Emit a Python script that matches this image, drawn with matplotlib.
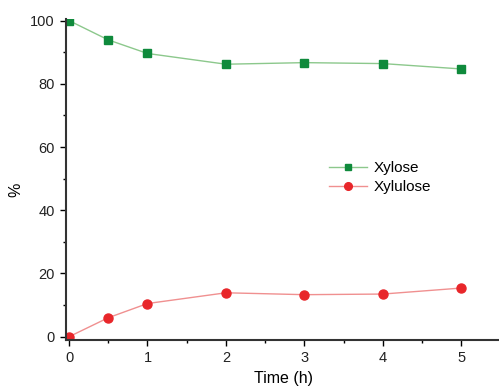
import matplotlib.pyplot as plt
from matplotlib.ticker import MultipleLocator

plt.rcParams['font.family'] = ['Liberation Sans', 'DejaVu Sans']

time_h = [0, 0.5, 1, 2, 3, 4, 5]
xylose = [100, 93.9, 89.6, 86.2, 86.7, 86.4, 84.7]
xylulose = [0, 6.0, 10.5, 13.9, 13.3, 13.5, 15.4]

fig = plt.figure(figsize=(4.99, 3.88), dpi=100)
ax = fig.add_axes([0.132, 0.124, 0.868, 0.827])

ax.plot(time_h, xylose, color="#8cc88c", lw=1, marker="s", ms=5.5,
        mfc="#0f8a3c", mec="#0f8a3c", label="Xylose")
ax.plot(time_h, xylulose, color="#f09090", lw=1, marker="o", ms=6.5,
        mfc="#e8262a", mec="#e8262a", label="Xylulose")

ax.set_xlim(-0.04, 5.48)
ax.set_ylim(-1, 100.5)
ax.xaxis.set_major_locator(MultipleLocator(1))
ax.xaxis.set_minor_locator(MultipleLocator(0.5))
ax.yaxis.set_major_locator(MultipleLocator(20))
ax.yaxis.set_minor_locator(MultipleLocator(10))
ax.tick_params(which="major", direction="out", length=4, width=1,
               labelsize=10.5, labelcolor="#222222", pad=4)
ax.tick_params(which="minor", direction="out", length=2.5, width=1)

for s in ["top", "right"]:
    ax.spines[s].set_visible(False)
for s in ["left", "bottom"]:
    ax.spines[s].set_color("#333333")
    ax.spines[s].set_linewidth(1.5)

ax.set_xlabel("Time (h)", fontsize=11.5)
ax.set_ylabel("%", fontsize=11.5)
ax.xaxis.set_label_coords(0.503, -0.098)
ax.yaxis.set_label_coords(-0.099, 0.467)

# legend sits in the empty middle-right area
ax.legend(loc="upper left", bbox_to_anchor=(0.575, 0.6), frameon=False,
          fontsize=11, handlelength=2.5, labelspacing=0.35, handletextpad=0.45,
          markerscale=0.85)

fig.savefig("out.png", dpi=100)
